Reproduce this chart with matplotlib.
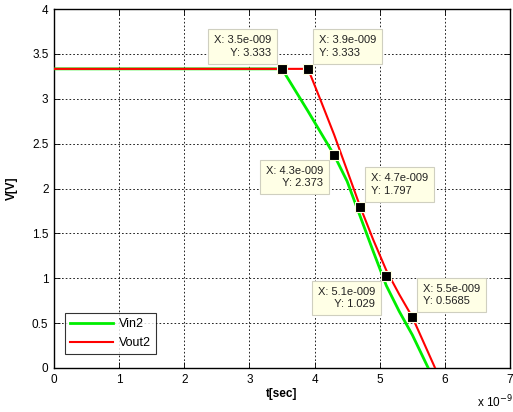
import matplotlib
matplotlib.use("Agg")
import matplotlib.pyplot as plt
from matplotlib.ticker import FuncFormatter, MultipleLocator

plt.rcParams['font.family'] = ['Liberation Sans', 'DejaVu Sans']

# Waveforms (time in seconds, voltage in volts)
t_vin = [0, 3.5e-9, 3.9e-9, 4.3e-9, 4.5e-9, 4.7e-9, 4.9e-9, 5.1e-9, 5.3e-9, 5.5e-9, 5.745e-9]
v_vin = [3.333, 3.333, 2.86, 2.373, 2.08, 1.69, 1.30, 0.92, 0.63, 0.37, 0.0]

t_vout = [0, 3.9e-9, 4.1e-9, 4.3e-9, 4.5e-9, 4.7e-9, 4.9e-9, 5.1e-9, 5.3e-9, 5.5e-9, 5.85e-9]
v_vout = [3.333, 3.333, 2.97, 2.60, 2.20, 1.797, 1.43, 1.09, 0.82, 0.5685, 0.0]

# Data cursor readouts
tip_t = [3.5e-9, 3.9e-9, 4.3e-9, 4.7e-9, 5.1e-9, 5.5e-9]
tip_v = [3.333, 3.333, 2.373, 1.797, 1.029, 0.5685]
# which side the readout box sits on: (horizontal, vertical)
tip_side = [('left', 'up'), ('right', 'up'), ('left', 'down'),
            ('right', 'up'), ('left', 'down'), ('right', 'up')]

series_names = ['Vin2', 'Vout2']

W, H, DPI = 513, 412, 100
fig = plt.figure(figsize=(W / DPI, H / DPI), dpi=DPI)
ax = fig.add_axes([54 / W, 1 - 368 / H, 456 / W, 359 / H])

ax.plot(t_vin, v_vin, color='#00ee00', lw=2.0, label=series_names[0], zorder=3)
ax.plot(t_vout, v_vout, color='#ff0000', lw=1.5, label=series_names[1], zorder=4)

ax.set_xlim(0, 7e-9)
ax.set_ylim(0, 4)
ax.xaxis.set_major_locator(MultipleLocator(1e-9))
ax.yaxis.set_major_locator(MultipleLocator(0.5))
ax.xaxis.set_major_formatter(FuncFormatter(lambda v, p: f"{v / 1e-9:g}"))
ax.yaxis.set_major_formatter(FuncFormatter(lambda v, p: f"{v:g}"))

ax.grid(True, color='black', linestyle=(0, (2, 2.5)), linewidth=0.6)
ax.set_axisbelow(True)
ax.tick_params(direction='in', length=4, width=0.6, labelsize=8.5, top=True, right=True,
               pad=4)
for s in ax.spines.values():
    s.set_linewidth(1.0)

ax.set_xlabel('t[sec]', fontsize=8.5, fontweight='bold')
ax.set_ylabel('V[V]', fontsize=8.5, fontweight='bold')
ax.xaxis.set_label_coords(0.5, -20 / 359)
ax.yaxis.set_label_coords(-36 / 456, 0.5)
fig.text(477 / W, 1 - 407 / H, r'x 10$^{-9}$', fontsize=8.5, ha='left', va='baseline')

leg = ax.legend(loc='lower left', bbox_to_anchor=(11 / 456, 14 / 359), fontsize=9,
                frameon=True, fancybox=False, edgecolor='black', borderaxespad=0,
                handlelength=3.4, handletextpad=0.5, borderpad=0.4, labelspacing=0.55)
leg.get_frame().set_linewidth(0.8)


def fmt_x(v):
    m, e = f"{v:.1e}".split('e')
    sign = '-' if int(e) < 0 else ''
    return f"{m}e{sign}{abs(int(e)):03d}"


# markers and readout boxes
ax.plot(tip_t, tip_v, linestyle='none', marker='s', markersize=6.5,
        markerfacecolor='black', markeredgecolor='#ffffe0', markeredgewidth=0.8, zorder=6)

fs_tip = 8
pad_px = 6
gap = 5
for t, v, (hs, vs) in zip(tip_t, tip_v, tip_side):
    if hs == 'left':
        txt = f"X: {fmt_x(t)}\n   Y: {v:.4g}"
        ha = 'right'
        dx = -(gap + pad_px)
    else:
        txt = f"X: {fmt_x(t)}\nY: {v:.4g}"
        ha = 'left'
        dx = gap + pad_px
    if vs == 'up':
        va = 'bottom'
        dy = gap + pad_px
    else:
        va = 'top'
        dy = -(gap + pad_px)
    ax.annotate(txt, xy=(t, v), xytext=(dx, dy), textcoords='offset pixels',
                ha=ha, va=va, multialignment=ha, fontsize=fs_tip, linespacing=1.3,
                color='#222222', zorder=7,
                bbox=dict(boxstyle=f'square,pad={pad_px / (fs_tip * DPI / 72):.3f}',
                          facecolor='#ffffe6', edgecolor='#cfcfc0', linewidth=0.8))

fig.savefig('out.png', dpi=DPI)
